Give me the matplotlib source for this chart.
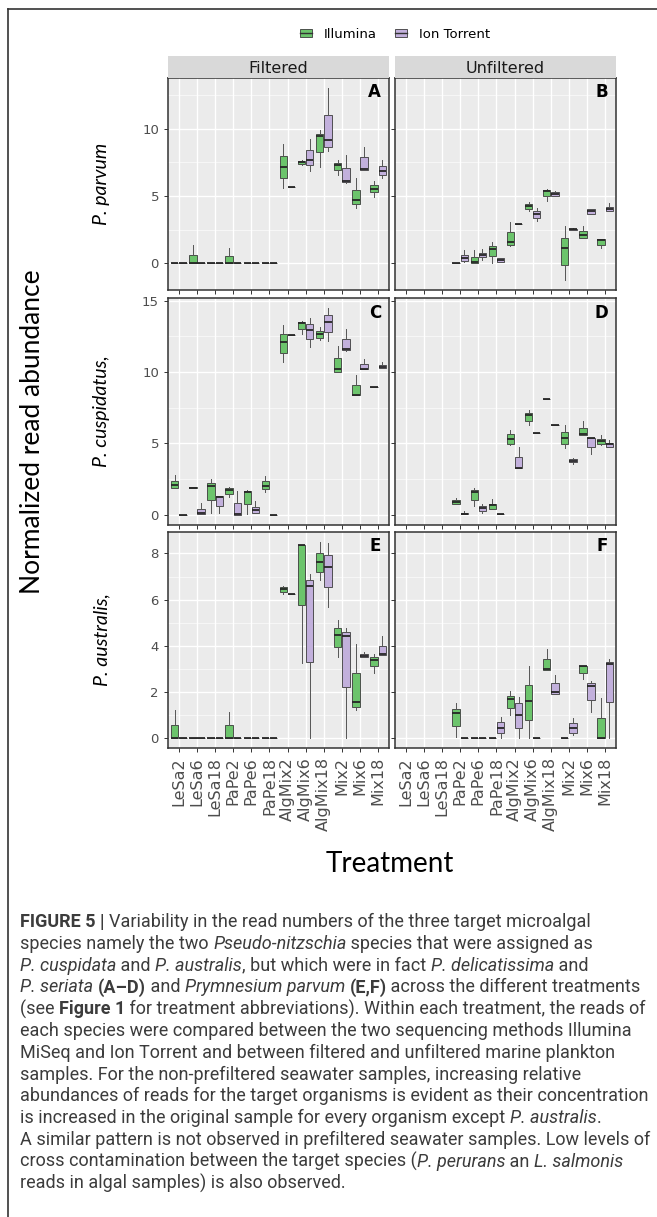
import matplotlib
matplotlib.use("Agg")
import matplotlib.pyplot as plt
from matplotlib.patches import Patch
from matplotlib.lines import Line2D
import numpy as np

# treatments on the x axis
treatments = ["LeSa2", "LeSa6", "LeSa18", "PaPe2", "PaPe6", "PaPe18",
              "AlgMix2", "AlgMix6", "AlgMix18", "Mix2", "Mix6", "Mix18"]
methods = ["Illumina", "Ion Torrent"]
row_labels = ["P. parvum", "P. cuspidatus,", "P. australis,"]
col_labels = ["Filtered", "Unfiltered"]
panel_letters = [["A", "B"], ["C", "D"], ["E", "F"]]

# box summaries per treatment: [whisker low, q1, median, q3, whisker high], None = no box
Z = [0, 0, 0, 0, 0]
A_ill = [Z, [0, 0, 0, 0.65, 1.35], Z, [0, 0, 0, 0.57, 1.17], Z, Z,
         [5.63, 6.3, 7.16, 7.95, 8.84], [7.3, 7.35, 7.5, 7.62, 7.7],
         [7.16, 8.27, 9.43, 9.58, 9.9], [6.56, 6.9, 7.27, 7.44, 7.65],
         [4.12, 4.39, 4.69, 5.48, 6.34], [4.94, 5.26, 5.55, 5.85, 6.12]]
A_ion = [Z, Z, Z, Z, Z, Z,
         [5.7, 5.7, 5.7, 5.7, 5.7], [6.86, 7.28, 7.7, 8.44, 9.2],
         [8.32, 8.64, 9.13, 11.03, 13.0], [6.0, 6.05, 6.1, 7.1, 8.07],
         [6.9, 6.9, 7.0, 7.86, 8.64], [6.3, 6.59, 6.86, 7.23, 7.65]]
B_ill = [None, None, None, Z, [0, 0, 0.12, 0.44, 0.99], [0.05, 0.54, 1.04, 1.27, 1.6],
         [1.27, 1.36, 1.6, 2.32, 3.08], [3.87, 4.05, 4.27, 4.44, 4.54],
         [4.64, 5.0, 5.4, 5.48, 5.55], [-1.24, -0.12, 1.16, 1.92, 2.76],
         [1.9, 1.9, 2.1, 2.39, 2.76], [1.11, 1.4, 1.72, 1.8, 1.8]]
B_ion = [None, None, None, [0.12, 0.2, 0.37, 0.62, 0.99], [0.25, 0.44, 0.64, 0.8, 1.1],
         [0.1, 0.1, 0.25, 0.37, 0.37], [2.96, 2.96, 2.96, 2.96, 2.96],
         [3.15, 3.35, 3.7, 3.9, 4.12], [5.0, 5.0, 5.18, 5.32, 5.4],
         [2.5, 2.5, 2.54, 2.58, 2.6], [3.7, 3.7, 3.87, 4.0, 4.0],
         [3.9, 3.9, 4.04, 4.2, 4.5]]
C_ill = [[1.84, 1.9, 2.07, 2.38, 2.78], [1.85, 1.85, 1.9, 1.93, 1.95],
         [0.14, 1.01, 2.02, 2.24, 2.5], [1.25, 1.44, 1.76, 1.84, 1.95],
         [0.07, 0.78, 1.6, 1.65, 1.72], [1.6, 1.79, 2.02, 2.35, 2.7],
         [10.73, 11.36, 12.12, 12.66, 13.3], [12.66, 13.0, 13.48, 13.53, 13.6],
         [12.24, 12.42, 12.66, 12.89, 13.18], [10.02, 10.02, 10.19, 10.96, 11.81],
         [8.38, 8.38, 8.42, 9.08, 9.79], [8.96, 8.96, 8.96, 8.96, 8.96]]
C_ion = [Z, [0.02, 0.02, 0.14, 0.42, 0.82], [0.14, 0.61, 1.22, 1.29, 1.29],
         [0, 0, 0.02, 0.85, 1.67], [0.14, 0.14, 0.3, 0.54, 0.96], Z,
         [12.59, 12.59, 12.59, 12.59, 12.59], [11.79, 12.3, 12.94, 13.36, 13.79],
         [12.19, 12.85, 13.55, 14.0, 14.5], [11.48, 11.53, 11.6, 12.3, 13.0],
         [10.19, 10.19, 10.24, 10.59, 10.9], [10.26, 10.26, 10.35, 10.49, 10.73]]
D_ill = [None, None, None, [0.73, 0.73, 0.87, 1.01, 1.2], [0.61, 1.01, 1.6, 1.72, 1.84],
         [0.42, 0.42, 0.66, 0.78, 1.08], [4.89, 4.96, 5.32, 5.67, 5.95],
         [6.26, 6.59, 7.0, 7.13, 7.32], [8.09, 8.09, 8.09, 8.09, 8.09],
         [4.66, 4.96, 5.36, 5.79, 6.31], [5.6, 5.6, 5.67, 6.07, 6.54],
         [4.89, 4.94, 5.2, 5.32, 5.6]]
D_ion = [None, None, None, [0.07, 0.07, 0.07, 0.1, 0.24], [0.12, 0.24, 0.47, 0.61, 0.78],
         [0.07, 0.07, 0.07, 0.07, 0.07], [3.25, 3.25, 3.29, 4.02, 4.73],
         [5.76, 5.76, 5.76, 5.76, 5.76], [6.31, 6.31, 6.31, 6.31, 6.31],
         [3.55, 3.67, 3.79, 3.9, 3.95], [4.26, 4.78, 5.36, 5.41, 5.41],
         [4.73, 4.73, 4.96, 5.06, 5.25]]
E_ill = [[0, 0, 0, 0.58, 1.2], Z, Z, [0, 0, 0, 0.58, 1.15], Z, Z,
         [6.24, 6.31, 6.46, 6.53, 6.57], [3.26, 5.76, 8.36, 8.37, 8.37],
         [6.86, 7.2, 7.65, 8.04, 8.5], [3.5, 3.93, 4.47, 4.75, 5.12],
         [1.2, 1.34, 1.56, 2.81, 4.08], [2.82, 3.11, 3.4, 3.5, 3.65]]
E_ion = [Z, Z, Z, Z, Z, Z,
         [6.24, 6.24, 6.24, 6.24, 6.24], [0, 3.29, 6.6, 6.86, 7.1],
         [5.7, 6.53, 7.42, 7.93, 8.44], [0, 2.2, 4.44, 4.58, 4.75],
         [3.5, 3.5, 3.57, 3.65, 3.72], [3.62, 3.62, 3.65, 4.0, 4.41]]
F_ill = [None, None, None, [0.04, 0.52, 1.1, 1.27, 1.53], Z, Z,
         [1.0, 1.31, 1.7, 1.84, 2.02], [0, 0.79, 1.59, 2.32, 3.11],
         [2.93, 2.93, 3.0, 3.43, 3.86], Z,
         [2.56, 2.81, 3.13, 3.14, 3.14], [0, 0, 0, 0.86, 1.73]]
F_ion = [None, None, None, Z, Z, [0, 0.23, 0.45, 0.69, 0.91],
         [0, 0.45, 0.98, 1.53, 1.77], Z,
         [1.92, 1.92, 1.99, 2.38, 2.75], [0.12, 0.22, 0.43, 0.66, 0.88],
         [1.15, 1.66, 2.25, 2.39, 2.49], [0, 1.58, 3.21, 3.29, 3.43]]

panels = [[(A_ill, A_ion), (B_ill, B_ion)],
          [(C_ill, C_ion), (D_ill, D_ion)],
          [(E_ill, E_ion), (F_ill, F_ion)]]

ylims = [(-1.97, 13.75), (-0.72, 15.2), (-0.43, 8.93)]
yticks = [[0, 5, 10], [0, 5, 10, 15], [0, 2, 4, 6, 8]]
yminor = [[2.5, 7.5, 12.5], [2.5, 7.5, 12.5], [1, 3, 5, 7]]

caption = [
    [("FIGURE 5 | ", "b"), ("Variability in the read numbers of the three target microalgal", "n")],
    [("species namely the two ", "n"), ("Pseudo-nitzschia", "i"), (" species that were assigned as", "n")],
    [("P. cuspidata", "i"), (" and ", "n"), ("P. australis", "i"), (", but which were in fact ", "n"),
     ("P. delicatissima", "i"), (" and", "n")],
    [("P. seriata", "i"), (" ", "n"), ("(A\u2013D)", "b"), (" and ", "n"), ("Prymnesium parvum", "i"),
     (" ", "n"), ("(E,F)", "b"), (" across the different treatments", "n")],
    [("(see ", "n"), ("Figure 1", "b"), (" for treatment abbreviations). Within each treatment, the reads of", "n")],
    [("each species were compared between the two sequencing methods Illumina", "n")],
    [("MiSeq and Ion Torrent and between filtered and unfiltered marine plankton", "n")],
    [("samples. For the non-prefiltered seawater samples, increasing relative", "n")],
    [("abundances of reads for the target organisms is evident as their concentration", "n")],
    [("is increased in the original sample for every organism except ", "n"), ("P. australis", "i"), (".", "n")],
    [("A similar pattern is not observed in prefiltered seawater samples. Low levels of", "n")],
    [("cross contamination between the target species (", "n"), ("P. perurans", "i"), (" an ", "n"),
     ("L. salmonis", "i")],
    [("reads in algal samples) is also observed.", "n")],
]

green = "#6CC46C"
purple = "#C2B0DC"
edge = "#3A3A3A"

W, H = 657, 1217
fig = plt.figure(figsize=(W / 100, H / 100), dpi=100)


def fx(px):
    return px / W


def fy(py):
    return 1 - py / H


col_x = [(168, 389), (395, 616)]
row_y = [(78, 290), (298, 525), (532, 748)]
sans = "DejaVu Sans"


def draw_boxes(ax, rows, offset, color):
    stats, pos = [], []
    for i, r in enumerate(rows):
        if r is None:
            continue
        lo, q1, med, q3, hi = r
        stats.append(dict(whislo=lo, q1=q1, med=med, q3=q3, whishi=hi, fliers=[]))
        pos.append(i + 1 + offset)
    ax.bxp(stats, positions=pos, widths=0.405, patch_artist=True,
           showfliers=False, showcaps=False, manage_ticks=False,
           boxprops=dict(facecolor=color, edgecolor=edge, linewidth=0.6),
           medianprops=dict(color="#262626", linewidth=1.3),
           whiskerprops=dict(color="#555555", linewidth=0.7), zorder=3)


x = np.arange(1, len(treatments) + 1)
for r in range(3):
    for c in range(2):
        l, rr = col_x[c]
        t, b = row_y[r]
        ax = fig.add_axes([fx(l), fy(b), (rr - l) / W, (b - t) / H])
        ax.set_facecolor("#EBEBEB")
        ax.set_axisbelow(True)
        ill, ion = panels[r][c]
        draw_boxes(ax, ill, -0.225, green)
        draw_boxes(ax, ion, 0.225, purple)
        ax.set_xlim(0.4, len(treatments) + 0.6)
        ax.set_ylim(*ylims[r])
        ax.set_xticks(x)
        ax.set_yticks(yticks[r])
        ax.set_yticks(yminor[r], minor=True)
        ax.grid(True, which="major", color="white", linewidth=1.0)
        ax.grid(True, which="minor", axis="y", color="white", linewidth=0.5, alpha=0.8)
        ax.tick_params(which="minor", length=0)
        ax.tick_params(which="major", direction="out", length=3, width=0.7,
                       color="#333333", labelcolor="#4D4D4D", labelsize=9.5)
        ax.tick_params(axis="x", labelsize=11.5)
        for s in ax.spines.values():
            s.set_color("#333333")
            s.set_linewidth(1.1)
        if r == 2:
            ax.set_xticklabels(treatments, rotation=90, family=sans)
        else:
            ax.set_xticklabels([])
        if c == 0:
            ax.set_yticklabels([str(v) for v in yticks[r]], family=sans)
        else:
            ax.set_yticklabels([])
        ax.text(0.965, 0.975, panel_letters[r][c], transform=ax.transAxes, ha="right",
                va="top", fontsize=12, fontweight="bold", family=sans, zorder=5)

        if r == 0:
            sax = fig.add_axes([fx(l), fy(t), (rr - l) / W, 22 / H])
            sax.set_facecolor("#D9D9D9")
            sax.set_xticks([])
            sax.set_yticks([])
            for s in sax.spines.values():
                s.set_visible(False)
            sax.text(0.5, 0.45, col_labels[c], ha="center", va="center", fontsize=11.5,
                     color="#1A1A1A", family=sans)

for r in range(3):
    t, b = row_y[r]
    fig.text(fx(102), fy((t + b) / 2), row_labels[r], rotation=90, ha="center", va="center",
             fontsize=14, style="italic", family="Lato")

fig.text(fx(33), fy(432), "Normalized read abundance", rotation=90, ha="center",
         va="center", fontsize=19, family="Lato")
fig.text(fx(390), fy(864), "Treatment", ha="center", va="center", fontsize=20, family="Lato")

handles = [(Patch(facecolor=green, edgecolor=edge, linewidth=0.6), Line2D([0], [0], color="#333333", lw=1)),
           (Patch(facecolor=purple, edgecolor=edge, linewidth=0.6), Line2D([0], [0], color="#333333", lw=1))]
fig.legend(handles, methods, loc="center", bbox_to_anchor=(fx(395), fy(34)), ncol=2,
           frameon=False, prop=dict(family=sans, size=9.5), handlelength=0.9, handleheight=0.6,
           columnspacing=1.4, handletextpad=0.9)

# outer frame of the figure
fig.add_artist(Line2D([fx(8), 1], [fy(8.5), fy(8.5)], transform=fig.transFigure,
                      color="#333333", lw=1.2))
fig.add_artist(Line2D([fx(8), fx(8)], [fy(8.5), 0], transform=fig.transFigure,
                      color="#333333", lw=1.2))

# caption, drawn segment by segment
renderer = fig.canvas.get_renderer()
styles = {"n": dict(), "i": dict(style="italic"), "b": dict(fontweight="bold")}
cap_font = "Roboto"


def seg_width(txt, st, size):
    t1 = fig.text(0, 0, txt + "x", fontsize=size, family=cap_font, **styles[st])
    t2 = fig.text(0, 0, "x", fontsize=size, family=cap_font, **styles[st])
    w = t1.get_window_extent(renderer).width - t2.get_window_extent(renderer).width
    t1.remove()
    t2.remove()
    return w


ref_line = caption[10]
base = 10.0
wref = sum(seg_width(t, s, base) for t, s in ref_line)
cap_size = base * 630 / wref

y0, dy = 922, 21.8
for i, line in enumerate(caption):
    xpos = 20
    for txt, st in line:
        fig.text(fx(xpos), fy(y0 + i * dy), txt, fontsize=cap_size, family=cap_font,
                 color="#3C3C3C", va="center", ha="left", **styles[st])
        xpos += seg_width(txt, st, cap_size)

fig.savefig("out.png", dpi=100)
